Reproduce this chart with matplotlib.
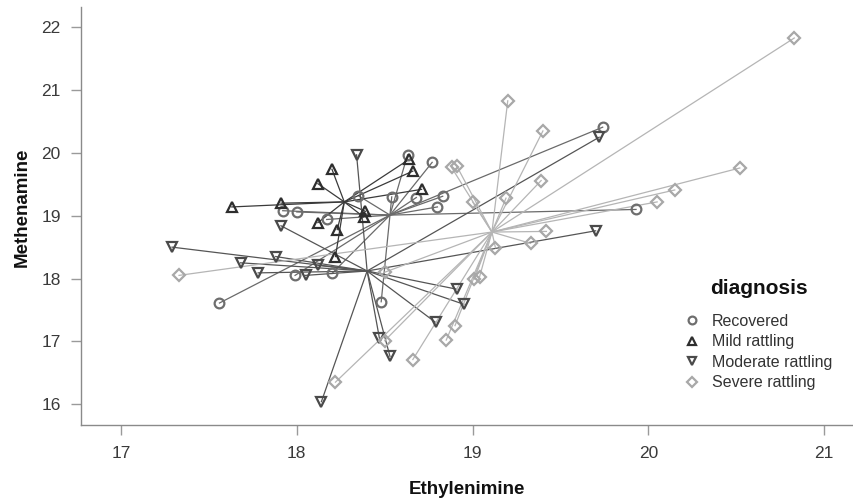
import numpy as np
import matplotlib
matplotlib.use('Agg')
import matplotlib.pyplot as plt
from matplotlib.lines import Line2D

plt.rcParams['font.family'] = ['Liberation Sans', 'DejaVu Sans']

# points per diagnosis group (Ethylenimine, Methenamine)
recovered_x = [18.63, 18.77, 18.54, 18.68, 18.83, 18.80, 18.35, 17.92, 18.00,
               18.17, 17.99, 18.20, 17.56, 18.48, 19.74, 19.93]
recovered_y = [19.97, 19.85, 19.30, 19.29, 19.31, 19.14, 19.32, 19.08, 19.06,
               18.94, 18.05, 18.08, 17.61, 17.63, 20.41, 19.10]

mild_x = [17.63, 17.91, 18.12, 18.20, 18.12, 18.23, 18.39, 18.38, 18.64,
          18.66, 18.71, 18.22]
mild_y = [19.14, 19.20, 19.51, 19.74, 18.89, 18.78, 19.07, 18.98, 19.90,
          19.71, 19.42, 18.35]

moderate_x = [18.34, 17.91, 17.29, 17.88, 17.68, 18.12, 17.78, 18.05, 18.91,
              18.95, 18.79, 18.47, 18.53, 18.14, 19.70, 19.72]
moderate_y = [19.97, 18.84, 18.50, 18.35, 18.25, 18.21, 18.09, 18.05, 17.83,
              17.59, 17.30, 17.05, 16.76, 16.04, 18.76, 20.25]

severe_x = [20.83, 19.20, 19.40, 18.88, 18.91, 19.39, 19.19, 19.00, 20.52,
            20.15, 20.05, 19.42, 19.33, 19.13, 19.04, 19.01, 18.90, 18.85,
            18.66, 18.22, 18.50, 17.33, 18.50]
severe_y = [21.83, 20.83, 20.35, 19.77, 19.79, 19.56, 19.28, 19.22, 19.76,
            19.41, 19.22, 18.75, 18.56, 18.49, 18.03, 17.99, 17.25, 17.02,
            16.71, 16.35, 17.01, 18.05, 18.10]

# group centroids (where the spikes meet)
centroid_x = [18.53, 18.27, 18.40, 19.11]
centroid_y = [19.01, 19.22, 18.12, 18.74]

groups = ['Recovered', 'Mild rattling', 'Moderate rattling', 'Severe rattling']
markers = ['o', '^', 'v', 'D']
edge_colors = ['#6e6e6e', '#2e2e2e', '#4a4a4a', '#a8a8a8']
line_colors = ['#6a6a6a', '#3a3a3a', '#555555', '#b5b5b5']
marker_sizes = [7.0, 7.5, 7.5, 6.5]

xs = [recovered_x, mild_x, moderate_x, severe_x]
ys = [recovered_y, mild_y, moderate_y, severe_y]

fig = plt.figure(figsize=(8.54, 5.03), dpi=100)
ax = fig.add_axes([0.0954, 0.155, 0.9026, 0.831])

for i in range(4):
    for px, py in zip(xs[i], ys[i]):
        ax.plot([centroid_x[i], px], [centroid_y[i], py],
                color=line_colors[i], lw=0.9, zorder=2)

for i in range(4):
    ax.plot(xs[i], ys[i], linestyle='none', marker=markers[i],
            markersize=marker_sizes[i], markerfacecolor='none',
            markeredgecolor=edge_colors[i], markeredgewidth=1.6, zorder=3)

ax.set_xlim(16.775, 21.16)
ax.set_ylim(15.667, 22.323)
ax.set_xticks([17, 18, 19, 20, 21])
ax.set_yticks([16, 17, 18, 19, 20, 21, 22])

for side in ['top', 'right']:
    ax.spines[side].set_visible(False)
for side in ['left', 'bottom']:
    ax.spines[side].set_color('#8a8a8a')
    ax.spines[side].set_linewidth(1.0)

ax.tick_params(axis='both', direction='out', length=7, width=1.0,
               color='#9a9a9a', labelsize=12.5, labelcolor='#3a3a3a', pad=8)

narrow = ['Liberation Sans Narrow', 'Liberation Sans', 'DejaVu Sans']
ax.set_xlabel('Ethylenimine', fontsize=13.5, fontweight='bold',
              color='#111111', family=narrow)
ax.set_ylabel('Methenamine', fontsize=13.5, fontweight='bold',
              color='#111111', family=narrow)
ax.xaxis.set_label_coords(0.5, -0.135)
ax.yaxis.set_label_coords(-0.066, 0.52)

# legend title drawn on its own so the gap to the entries matches
fig.text(759 / 854, 1 - 289 / 503, 'diagnosis', fontsize=15,
         fontweight='bold', ha='center', va='center', color='#111111')

handles = [Line2D([], [], linestyle='none', marker=markers[i],
                  markersize=marker_sizes[i] * 0.8, markerfacecolor='none',
                  markeredgecolor=edge_colors[i], markeredgewidth=1.6)
           for i in range(4)]
leg = fig.legend(handles, groups, loc='upper left',
                 bbox_to_anchor=(684 / 854, 1 - 314 / 503),
                 frameon=False, fontsize=11.5,
                 handlelength=1.0, handletextpad=0.75, labelspacing=0.34,
                 borderpad=0, borderaxespad=0)
for t in leg.get_texts():
    t.set_color('#333333')

fig.savefig('out.png', dpi=100)
